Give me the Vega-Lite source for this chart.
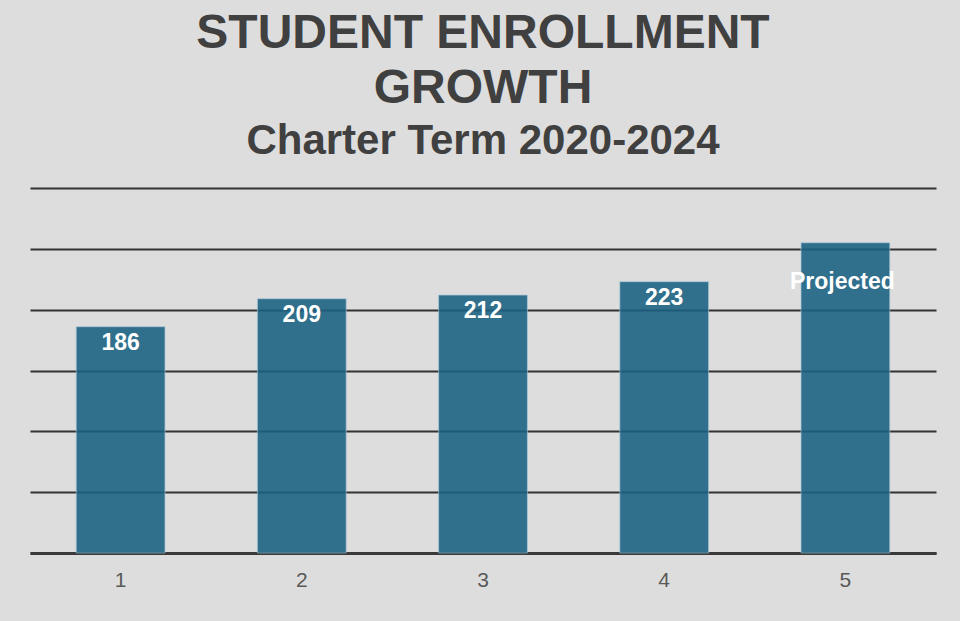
{
  "$schema": "https://vega.github.io/schema/vega-lite/v6.json",
  "width": 960,
  "height": 621,
  "autosize": {"type": "fit", "contains": "padding"},
  "padding": {"left": 30, "right": 24, "top": 10, "bottom": 31},
  "background": "#dddddd",
  "title": {
    "text": ["STUDENT ENROLLMENT", "GROWTH"],
    "subtitle": "Charter Term 2020-2024",
    "anchor": "middle",
    "font": "Liberation Sans",
    "fontSize": 48,
    "fontWeight": "bold",
    "color": "#404040",
    "lineHeight": 55,
    "subtitleFont": "Liberation Sans",
    "subtitleFontSize": 42,
    "subtitleFontWeight": "bold",
    "subtitleColor": "#404040",
    "subtitlePadding": 8,
    "offset": 26
  },
  "config": {
    "view": {"stroke": null}
  },
  "data": {
    "values": [
      {"period": 1, "enrollment": 186, "label": "186"},
      {"period": 2, "enrollment": 209, "label": "209"},
      {"period": 3, "enrollment": 212, "label": "212"},
      {"period": 4, "enrollment": 223, "label": "223"},
      {"period": 5, "enrollment": 255, "label": "Projected"}
    ]
  },
  "encoding": {
    "x": {
      "field": "period",
      "type": "ordinal",
      "scale": {"paddingInner": 0.51, "paddingOuter": 0.255},
      "axis": {
        "title": null,
        "labelAngle": 0,
        "labelFont": "Liberation Sans",
        "labelFontSize": 21,
        "labelColor": "#595959",
        "labelPadding": 16,
        "ticks": false,
        "domain": true,
        "domainColor": "#3a3a3a",
        "domainWidth": 3
      }
    },
    "y": {
      "field": "enrollment",
      "type": "quantitative",
      "scale": {"domain": [0, 300], "nice": false},
      "axis": {
        "title": null,
        "values": [0, 50, 100, 150, 200, 250, 300],
        "labels": false,
        "ticks": false,
        "domain": false,
        "grid": true,
        "gridColor": "#333333",
        "gridWidth": 2
      }
    }
  },
  "layer": [
    {
      "mark": {"type": "bar", "color": "#1a6183", "opacity": 0.88, "stroke": "#a6c8d8", "strokeWidth": 1, "strokeOpacity": 0.7}
    },
    {
      "transform": [{"filter": "datum.label != 'Projected'"}],
      "mark": {"type": "text", "baseline": "top", "dy": 5, "color": "white", "font": "Liberation Sans", "fontSize": 23, "fontWeight": "bold"},
      "encoding": {"text": {"field": "label"}}
    },
    {
      "transform": [{"filter": "datum.label == 'Projected'"}],
      "mark": {"type": "text", "baseline": "top", "dy": 28, "dx": -3, "color": "white", "font": "Liberation Sans", "fontSize": 23, "fontWeight": "bold"},
      "encoding": {"text": {"field": "label"}}
    }
  ]
}
